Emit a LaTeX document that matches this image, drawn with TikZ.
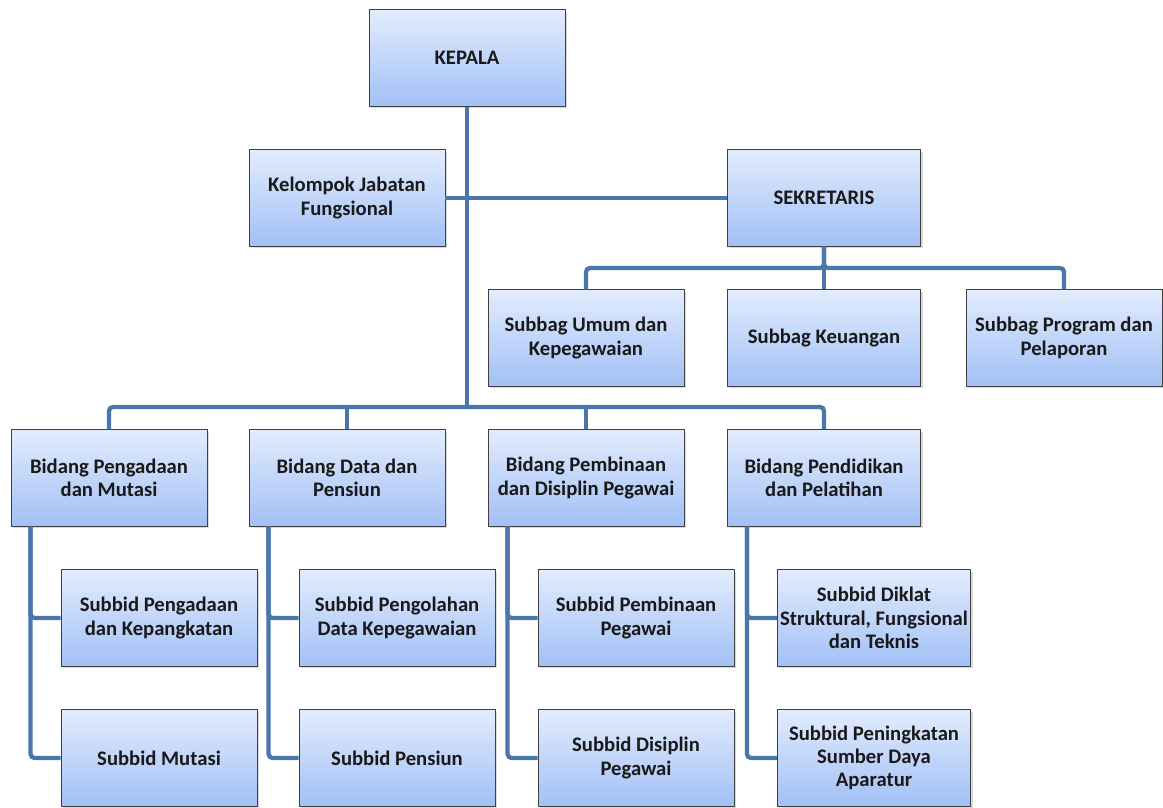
\documentclass[tikz,border=0pt]{standalone}
\usepackage{fontspec}
\setmainfont{Carlito}
\usetikzlibrary{shadows}
\definecolor{linec}{HTML}{4A76AC}
\definecolor{topc}{HTML}{E2ECFD}
\definecolor{botc}{HTML}{A2C0F6}
\begin{document}
\begin{tikzpicture}[x=0.75pt,y=-0.75pt,
  orgbox/.style={draw=black!75, line width=0.6pt, top color=topc, bottom color=botc,
    minimum width=147pt, minimum height=72.5pt, inner sep=0.5pt, align=center,
    font=\bfseries\fontsize{15.5}{17.5}\selectfont, text=black!90,
    drop shadow={shadow xshift=1.5pt, shadow yshift=-1.5pt, fill=black!25, opacity=0.6}},
  wideorg/.style={orgbox, minimum width=145pt},
  conn/.style={draw=linec, line width=3.2pt, rounded corners=3pt}]
\useasboundingbox (0,0) rectangle (1163,807);
% nodes
\node[orgbox] (kepala) at (467,58) {KEPALA};
\node[orgbox] (kjf) at (347,198) {Kelompok Jabatan\\Fungsional};
\node[wideorg] (sek) at (824,198) {SEKRETARIS};
\node[orgbox] (sb1) at (586,338) {Subbag Umum dan\\Kepegawaian};
\node[wideorg] (sb2) at (824,338) {Subbag Keuangan};
\node[orgbox] (sb3) at (1064,338) {Subbag Program dan\\Pelaporan};
\node[orgbox] (bd1) at (109,478) {Bidang Pengadaan\\dan Mutasi};
\node[orgbox] (bd2) at (347,478) {Bidang Data dan\\Pensiun};
\node[orgbox] (bd3) at (586,478) {Bidang Pembinaan\\dan Disiplin Pegawai};
\node[wideorg] (bd4) at (824,478) {Bidang Pendidikan\\dan Pelatihan};
\node[orgbox] (s11) at (159,618) {Subbid Pengadaan\\dan Kepangkatan};
\node[orgbox] (s12) at (159,758) {Subbid Mutasi};
\node[orgbox] (s21) at (397,618) {Subbid Pengolahan\\Data Kepegawaian};
\node[orgbox] (s22) at (397,758) {Subbid Pensiun};
\node[orgbox] (s31) at (636,618) {Subbid Pembinaan\\Pegawai};
\node[orgbox] (s32) at (636,758) {Subbid Disiplin\\Pegawai};
\node[wideorg] (s41) at (874,618) {Subbid Diklat\\Struktural, Fungsional\\dan Teknis};
\node[wideorg] (s42) at (874,758) {Subbid Peningkatan\\Sumber Daya\\Aparatur};
% connectors
\coordinate (bus) at (467,407);
\draw[conn] (kepala.south) -- (bus);
\draw[conn] (kjf.east) -- (sek.west);
\draw[conn] (sek.south) -- (824,268) -| (sb1.north);
\draw[conn] (sek.south) -- (824,268) -| (sb3.north);
\draw[conn] (sb2.north) -- (824,268);
\draw[conn] (bus) -| (bd1.north);
\draw[conn] (bus) -| (bd4.north);
\draw[conn] (bd2.north) -- (347,407);
\draw[conn] (bd3.north) -- (586,407);
\foreach \b/\t/\u in {bd1/s11/s12, bd2/s21/s22, bd3/s31/s32, bd4/s41/s42}{
  \draw[conn] ([xshift=15pt]\b.south west) |- (\u.west);
  \draw[conn] ([xshift=15pt]\b.south west) |- (\t.west);
}
\end{tikzpicture}
\end{document}
